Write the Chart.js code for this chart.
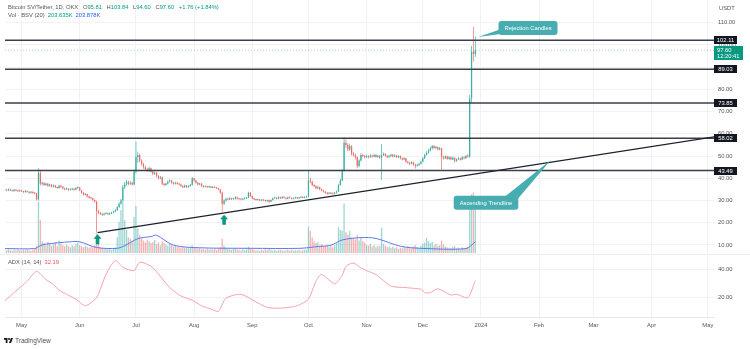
<!DOCTYPE html>
<html>
<head>
<meta charset="utf-8">
<script src="https://cdn.jsdelivr.net/npm/chart.js@4/dist/chart.umd.min.js"></script>
<style>
  body { margin: 0; background: #fff; font-family: "Liberation Sans", Arial, sans-serif; }
  #wrap { position: relative; width: 750px; height: 349px; overflow: hidden; background: #fff; }
  canvas { position: absolute; left: 0; }
  .txt { position: absolute; font-size: 5.8px; line-height: 7px; color: #555; white-space: nowrap; }
  .txt span { margin-right: 3px; }
  .up { color: #089981; }
  .blue { color: #2962ff; }
  .red { color: #f7525f; }
  #sep { position: absolute; left: 0; top: 254px; width: 750px; height: 1px; background: #eceef2; }
  #footer { position: absolute; left: 4px; top: 337px; font-size: 6.5px; color: #555; display: flex; align-items: center; gap: 2px; }
</style>
</head>
<body>
<div id="wrap">
  <canvas id="main" width="750" height="256" style="top:0"></canvas>
  <canvas id="adx" width="750" height="80" style="top:256px"></canvas>
  <div id="sep"></div>
  <div class="txt" style="left:8px;top:4px">
    <span>Bitcoin SV/Tether, 1D, OKX</span>
    <span>O<b class="up" style="font-weight:normal">95.81</b></span>
    <span>H<b class="up" style="font-weight:normal">103.84</b></span>
    <span>L<b class="up" style="font-weight:normal">94.60</b></span>
    <span>C<b class="up" style="font-weight:normal">97.60</b></span>
    <span class="up">+1.76 (+1.84%)</span>
  </div>
  <div class="txt" style="left:8px;top:12px">
    <span>Vol · BSV (20)</span><span class="up">203.635K</span><span class="blue">203.878K</span>
  </div>
  <div class="txt" style="left:8px;top:259px">
    <span>ADX (14, 14)</span><span class="red">32.19</span>
  </div>
  <div class="txt" style="left:719px;top:5px">USDT</div>
  <div id="footer">
    <svg width="9" height="7" viewBox="0 0 36 28"><path d="M14 24H7V11H0V4h14v20zm14 0h-8l7.5-20H36l-8 20z" fill="#131722"/><circle cx="20" cy="8" r="4" fill="#131722"/></svg>
    <span>TradingView</span>
  </div>
</div>
<script>
// day 0 = 1 May 2023, first candle is 22 Apr 2023
const startDay = -9

const opens = [
  34.5, 34.8, 34.5, 35.0, 34.6, 34.3, 34.9, 34.5, 34.2, 34.6,
  34.1, 33.8, 34.3, 33.9, 33.5, 33.9, 33.4, 33.2, 30.5, 42.5,
  37.5, 37.8, 37.0, 37.6, 36.6, 37.1, 36.3, 36.8, 36.0, 35.6,
  36.7, 36.2, 35.4, 35.0, 35.3, 34.8, 35.0, 35.3, 34.8, 35.6,
  35.9, 34.5, 33.5, 32.6, 32.9, 31.8, 31.2, 31.0, 30.2, 29.5,
  25.2, 24.4, 24.0, 23.6, 24.1, 24.3, 23.8, 24.2, 24.6, 25.0,
  25.6, 27.0, 28.5, 30.0, 36.0, 37.2, 38.4, 37.5, 38.0, 37.2,
  43.0, 49.6, 50.5, 48.0, 46.5, 45.0, 44.0, 43.5, 44.5, 43.0,
  42.0, 42.5, 41.0, 40.0, 40.5, 37.5, 37.0, 37.5, 38.5, 39.0,
  38.0, 37.5, 38.0, 37.6, 37.2, 36.5, 36.0, 36.8, 36.0, 36.5,
  37.0, 40.0, 39.0, 38.0, 37.2, 37.6, 36.5, 36.2, 36.4, 36.0,
  36.3, 35.8, 36.1, 35.9, 35.6, 35.0, 33.5, 28.5, 30.0, 30.8,
  30.5, 31.0, 30.6, 30.8, 31.5, 30.8, 30.6, 30.5, 30.8, 31.0,
  31.2, 33.5, 32.0, 31.0, 30.5, 30.2, 30.4, 30.0, 30.3, 30.1,
  29.8, 30.2, 29.5, 30.2, 31.0, 31.3, 30.8, 31.5, 31.0, 31.6,
  31.2, 30.8, 31.5, 31.2, 30.8, 31.0, 31.4, 31.0, 31.3, 31.6,
  31.2, 31.5, 31.8, 39.0, 38.5, 37.0, 36.5, 35.5, 36.0, 35.0,
  34.5, 34.0, 33.5, 33.0, 33.4, 33.2, 33.0, 33.5, 34.0, 37.0,
  39.0, 43.5, 56.0, 55.0, 53.0, 54.5, 51.0, 50.5, 49.5, 45.5,
  48.0, 50.5, 50.0, 49.5, 50.0, 49.5, 50.2, 49.8, 50.5, 49.6,
  50.2, 49.2, 50.5, 51.0, 50.2, 49.5, 50.0, 50.6, 49.8, 50.3,
  49.5, 50.0, 49.0, 48.5, 49.0, 47.5, 47.0, 46.5, 47.2, 46.2,
  45.6, 46.0, 46.5, 47.5, 49.0, 50.5, 51.5, 52.5, 53.5, 54.5,
  53.6, 54.0, 53.0, 53.5, 49.6, 49.0, 49.8, 48.7, 49.5, 48.5,
  49.2, 47.8, 48.5, 49.0, 48.4, 49.5, 49.0, 50.0, 49.8, 76.0,
  97.0, 95.81
]

const highs = [
  35.2, 35.1, 35.4, 35.3, 34.9, 35.3, 35.1, 34.8, 35.0, 34.8,
  34.4, 34.7, 34.5, 34.2, 34.3, 34.1, 33.8, 33.4, 44.5, 43.2,
  38.6, 38.2, 38.1, 37.9, 37.6, 37.4, 37.2, 37.0, 36.3, 37.2,
  37.0, 36.5, 35.8, 35.7, 35.5, 35.4, 35.7, 35.5, 36.0, 36.4,
  36.0, 34.8, 33.8, 33.4, 33.1, 32.1, 31.6, 31.3, 30.5, 29.9,
  25.8, 24.8, 24.3, 24.5, 24.7, 24.6, 24.6, 25.0, 25.4, 26.1,
  27.5, 29.2, 30.8, 37.0, 38.4, 39.2, 38.9, 38.7, 38.5, 44.0,
  56.5, 52.0, 51.0, 48.6, 47.0, 45.6, 44.6, 45.2, 44.9, 43.4,
  43.1, 42.8, 41.4, 41.0, 40.8, 37.9, 38.0, 39.0, 39.6, 39.3,
  38.4, 38.4, 38.3, 37.9, 37.5, 36.8, 37.2, 37.0, 36.9, 37.4,
  40.6, 40.3, 39.3, 38.3, 38.0, 37.8, 36.8, 36.8, 36.7, 36.6,
  36.5, 36.4, 36.3, 36.1, 35.8, 35.2, 34.0, 30.6, 31.3, 31.1,
  31.6, 31.2, 31.2, 31.9, 31.7, 31.1, 30.9, 31.2, 31.4, 31.6,
  34.0, 33.8, 32.3, 31.3, 30.8, 30.8, 30.6, 30.6, 30.5, 30.4,
  30.5, 30.4, 30.5, 31.4, 31.7, 31.5, 31.9, 31.7, 32.0, 31.8,
  31.4, 31.8, 31.7, 31.4, 31.3, 31.7, 31.6, 31.6, 31.9, 31.8,
  31.8, 32.2, 43.4, 40.2, 38.9, 37.5, 36.9, 36.6, 36.3, 35.3,
  34.8, 34.3, 33.8, 33.8, 33.7, 33.5, 33.9, 34.5, 37.6, 39.8,
  44.2, 58.5, 57.6, 55.8, 55.6, 54.9, 51.9, 51.0, 49.9, 48.6,
  51.3, 51.0, 50.6, 50.6, 50.4, 50.8, 50.6, 51.0, 50.8, 50.7,
  50.5, 55.4, 51.6, 51.3, 50.6, 50.5, 51.1, 50.9, 50.8, 50.6,
  50.4, 50.3, 49.4, 49.5, 49.3, 47.9, 47.4, 47.7, 47.5, 46.5,
  46.6, 47.0, 48.0, 49.6, 51.1, 52.2, 53.2, 54.2, 55.0, 54.9,
  54.6, 54.3, 54.1, 53.8, 50.2, 50.3, 50.1, 50.0, 49.8, 49.7,
  49.4, 49.0, 49.5, 49.3, 50.0, 49.8, 50.6, 50.8, 77.5, 99.5,
  108.2, 103.84
]

const lows = [
  34.2, 34.2, 34.3, 34.3, 33.9, 34.0, 34.2, 33.8, 33.9, 33.8,
  33.4, 33.5, 33.6, 33.1, 33.2, 33.0, 32.8, 30.0, 30.0, 36.8,
  36.9, 36.5, 36.6, 36.2, 36.2, 35.9, 35.9, 35.6, 35.2, 35.4,
  35.8, 35.0, 34.6, 34.7, 34.4, 34.5, 34.7, 34.4, 34.6, 35.3,
  34.2, 33.1, 32.2, 32.3, 31.4, 30.8, 30.6, 29.8, 29.1, 15.6,
  23.9, 23.5, 23.1, 23.2, 23.7, 23.4, 23.5, 23.9, 24.3, 24.7,
  25.3, 26.7, 28.1, 29.6, 35.2, 36.6, 36.9, 37.0, 36.8, 36.9,
  42.2, 47.0, 47.2, 45.8, 44.3, 43.2, 42.8, 43.0, 42.5, 41.4,
  41.6, 40.4, 39.5, 39.6, 37.0, 36.4, 36.6, 37.2, 38.1, 37.6,
  37.1, 37.2, 37.2, 36.8, 36.1, 35.6, 35.8, 35.6, 35.7, 36.2,
  36.8, 38.5, 37.6, 36.8, 36.9, 36.1, 35.8, 35.9, 35.7, 35.7,
  35.5, 35.5, 35.6, 35.2, 34.6, 33.0, 24.9, 27.9, 29.6, 30.1,
  30.2, 30.2, 30.3, 30.5, 30.5, 30.3, 30.1, 30.2, 30.5, 30.7,
  31.0, 31.7, 30.7, 30.2, 29.9, 29.9, 29.7, 29.7, 29.8, 29.5,
  29.5, 28.8, 29.3, 30.0, 30.8, 30.5, 30.6, 30.7, 30.8, 30.9,
  30.5, 30.6, 30.9, 30.5, 30.6, 30.8, 30.7, 30.8, 31.1, 30.9,
  31.0, 31.3, 31.5, 37.8, 36.4, 36.0, 35.1, 35.1, 34.6, 34.1,
  33.6, 33.1, 32.6, 32.7, 32.9, 32.6, 32.7, 33.2, 33.8, 36.6,
  38.7, 43.0, 53.8, 52.2, 52.4, 50.3, 49.8, 48.6, 44.5, 45.0,
  47.6, 49.4, 49.0, 49.1, 49.0, 49.2, 49.4, 49.5, 49.2, 49.3,
  48.8, 39.1, 50.0, 49.8, 49.1, 49.2, 49.7, 49.4, 49.5, 49.1,
  49.2, 48.6, 48.0, 48.2, 47.0, 46.5, 45.9, 46.2, 45.7, 44.4,
  45.2, 45.6, 46.2, 47.2, 48.7, 50.1, 51.1, 52.1, 53.0, 53.1,
  53.2, 52.5, 52.6, 44.0, 48.5, 48.7, 48.3, 48.4, 48.1, 48.2,
  47.0, 47.5, 48.2, 48.0, 48.2, 48.6, 48.8, 49.3, 49.2, 74.0,
  92.5, 94.60
]

const closes = [
  34.8, 34.5, 35.0, 34.6, 34.3, 34.9, 34.5, 34.2, 34.6, 34.1,
  33.8, 34.3, 33.9, 33.5, 33.9, 33.4, 33.2, 30.5, 42.5, 37.5,
  37.8, 37.0, 37.6, 36.6, 37.1, 36.3, 36.8, 36.0, 35.6, 36.7,
  36.2, 35.4, 35.0, 35.3, 34.8, 35.0, 35.3, 34.8, 35.6, 35.9,
  34.5, 33.5, 32.6, 32.9, 31.8, 31.2, 31.0, 30.2, 29.5, 25.2,
  24.4, 24.0, 23.6, 24.1, 24.3, 23.8, 24.2, 24.6, 25.0, 25.6,
  27.0, 28.5, 30.0, 36.0, 37.2, 38.4, 37.5, 38.0, 37.2, 43.0,
  49.6, 50.5, 48.0, 46.5, 45.0, 44.0, 43.5, 44.5, 43.0, 42.0,
  42.5, 41.0, 40.0, 40.5, 37.5, 37.0, 37.5, 38.5, 39.0, 38.0,
  37.5, 38.0, 37.6, 37.2, 36.5, 36.0, 36.8, 36.0, 36.5, 37.0,
  40.0, 39.0, 38.0, 37.2, 37.6, 36.5, 36.2, 36.4, 36.0, 36.3,
  35.8, 36.1, 35.9, 35.6, 35.0, 33.5, 28.5, 30.0, 30.8, 30.5,
  31.0, 30.6, 30.8, 31.5, 30.8, 30.6, 30.5, 30.8, 31.0, 31.2,
  33.5, 32.0, 31.0, 30.5, 30.2, 30.4, 30.0, 30.3, 30.1, 29.8,
  30.2, 29.5, 30.2, 31.0, 31.3, 30.8, 31.5, 31.0, 31.6, 31.2,
  30.8, 31.5, 31.2, 30.8, 31.0, 31.4, 31.0, 31.3, 31.6, 31.2,
  31.5, 31.8, 39.0, 38.5, 37.0, 36.5, 35.5, 36.0, 35.0, 34.5,
  34.0, 33.5, 33.0, 33.4, 33.2, 33.0, 33.5, 34.0, 37.0, 39.0,
  43.5, 56.0, 55.0, 53.0, 54.5, 51.0, 50.5, 49.5, 45.5, 48.0,
  50.5, 50.0, 49.5, 50.0, 49.5, 50.2, 49.8, 50.5, 49.6, 50.2,
  49.2, 50.5, 51.0, 50.2, 49.5, 50.0, 50.6, 49.8, 50.3, 49.5,
  50.0, 49.0, 48.5, 49.0, 47.5, 47.0, 46.5, 47.2, 46.2, 45.6,
  46.0, 46.5, 47.5, 49.0, 50.5, 51.5, 52.5, 53.5, 54.5, 53.6,
  54.0, 53.0, 53.5, 49.6, 49.0, 49.8, 48.7, 49.5, 48.5, 49.2,
  47.8, 48.5, 49.0, 48.4, 49.5, 49.0, 50.0, 49.8, 76.0, 97.0,
  95.84, 97.60
]

// volume in thousands
const volumes = [
  12, 10, 14, 11, 9, 13, 10, 12, 11, 9, 12, 10, 14, 11, 9, 12, 15,
  28, 196, 127,
  45, 38, 30, 42, 35, 28, 33, 40, 26, 48, 36, 30, 25, 32, 27, 22, 30, 26, 35, 40,
  30, 26, 22, 28, 24, 20, 25, 22, 30,
  75,
  35, 22, 18, 15, 17, 14, 16, 12, 18, 20,
  60, 120, 165, 197, 126, 88, 60, 55, 48, 139, 180, 95,
  70, 55, 48, 40, 52, 45, 38, 42, 50, 35, 40, 30, 45, 38, 33, 28, 36, 30, 25, 28,
  22, 26, 20, 24, 19, 22, 18, 20,
  30, 22,
  18, 16, 20, 14, 15, 12, 16, 13, 14, 12, 15, 11, 16, 22,
  55,
  28, 20, 16, 14, 12, 15, 18, 13, 12, 10, 14, 11, 13, 25, 18, 14, 12, 10, 11, 9,
  12, 10, 14, 11, 18, 12, 10, 13, 9, 11, 12, 10, 9, 11, 13, 10, 12, 9, 11, 10,
  12, 9, 11, 12, 14,
  101, 84,
  60, 45, 38, 42, 30, 35, 28, 26, 32, 24, 28, 22, 30, 38,
  100, 88, 85, 190,
  80, 70, 84, 60, 55, 52, 70, 48, 58, 45, 40,
  32, 28, 35, 25, 30, 22, 26, 28,
  97,
  35, 28, 22, 25, 20, 24, 18, 22, 16, 20, 18, 24, 20, 26, 22, 18, 25, 30, 22, 20,
  28, 35, 40, 58, 45, 38, 42, 30, 35, 28, 30, 48, 32, 26,
  22, 20, 18, 24, 26, 18, 20, 16, 22, 18, 20, 24,
  215, 225, 232, 203.635
]

// 20-day volume average
const volMaDays = [-9, 7, 10, 13, 26, 31, 40, 51, 55, 62, 69, 72, 81, 95, 122, 149, 157, 165, 171, 181, 189, 202, 213, 237, 242]
const volMaValues = [17, 17, 28, 34, 43, 43, 21, 18, 28, 55, 63, 68, 30, 20, 18, 18, 24, 30, 50, 59, 56, 26, 18, 17, 43]

const adxDays = [-9, -3, 3, 8, 13, 17, 20, 24, 29, 34, 40, 45, 50, 54, 60, 63, 69, 74, 79, 85,
  91, 96, 101, 105, 109, 117, 124, 131, 138, 145, 149, 153, 157, 160, 167, 171, 173, 177, 181, 184,
  189, 197, 205, 209, 213, 215, 218, 222, 229, 232, 238, 242]
const adxValues = [17.6, 24.7, 31.7, 38.8, 32.9, 29.4, 25.2, 22.3, 18.8, 14.1, 20.0, 36.5, 46.6, 41.7, 39.3, 45.4, 42.4, 35.3, 27.1, 21.1,
  18.1, 14.1, 11.7, 10.1, 19.5, 22.3, 17.6, 12.9, 12.4, 13.4, 15.3, 18.8, 31.7, 36.5, 29.9, 36.0, 42.4, 44.7, 41.2, 39.3,
  36.5, 28.2, 27.1, 26.6, 25.9, 23.5, 23.5, 26.3, 21.8, 22.3, 20.0, 32.19]

const levels = [102.11, 89.03, 73.85, 58.02, 43.49]
const lastPrice = 97.60
const priceTicks = [10, 20, 30, 40, 50, 60, 70, 80, 90, 100, 110]
const adxTicks = [20, 40]
const monthDays = [0, 31, 61, 92, 123, 153, 184, 214, 245, 276, 305, 336, 366]
const monthLabels = ['May', 'Jun', 'Jul', 'Aug', 'Sep', 'Oct', 'Nov', 'Dec', '2024', 'Feb', 'Mar', 'Apr', 'May']

// trendline from the June low, [day, price]
const trendline = [[40.5, 15.6], [371.4, 58.9]]
const arrows = [[40.5, 12.6], [108, 21.4]]
const calloutTexts = ['Rejection Candles', 'Ascending Trendline']
const calloutBoxes = [[270.1, 107.6], [247.7, 29.0]]
const calloutTips = [[243.4, 103.6], [282.3, 48.2]]

const xMin = -8.85, xMax = 369.3
const font = '"Liberation Sans", Arial, sans-serif'
const upColor = '#3bb0a3', downColor = '#f06a68'
const gridColor = '#f1f2f5'
const teal = '#089981'
const calloutColor = '#48adb0'

const days = closes.map((_, i) => startDay + i)
const isUp = i => closes[i] >= opens[i]
const candleColor = ctx => isUp(ctx.dataIndex) ? upColor : downColor

const drawings = {
  id: 'drawings',
  afterDatasetsDraw(chart) {
    const { ctx, scales: { x, y } } = chart
    ctx.save()
    // arrows under the trendline touches
    ctx.fillStyle = teal
    arrows.forEach(([d, p]) => {
      const cx = x.getPixelForValue(d), cy = y.getPixelForValue(p)
      ctx.beginPath()
      ctx.moveTo(cx, cy - 5)
      ctx.lineTo(cx + 4, cy - 0.5)
      ctx.lineTo(cx + 1.8, cy - 0.5)
      ctx.lineTo(cx + 1.8, cy + 5)
      ctx.lineTo(cx - 1.8, cy + 5)
      ctx.lineTo(cx - 1.8, cy - 0.5)
      ctx.lineTo(cx - 4, cy - 0.5)
      ctx.closePath()
      ctx.fill()
    })

    // callouts with a wedge toward the point
    ctx.font = '5.8px ' + font
    const wedges = [[-0.35, 0.15, 3], [0.32, 0, 6]]
    calloutTexts.forEach((text, i) => {
      const bx = x.getPixelForValue(calloutBoxes[i][0]), by = y.getPixelForValue(calloutBoxes[i][1])
      const tx = x.getPixelForValue(calloutTips[i][0]), ty = y.getPixelForValue(calloutTips[i][1])
      const w = ctx.measureText(text).width + 12, h = 14
      const [fx, fy, half] = wedges[i]
      const sx = bx + fx * w, sy = by + fy * h
      const len = Math.hypot(tx - sx, ty - sy)
      const nx = -(ty - sy) / len * half, ny = (tx - sx) / len * half
      ctx.fillStyle = calloutColor
      ctx.beginPath()
      ctx.moveTo(sx + nx, sy + ny)
      ctx.lineTo(tx, ty)
      ctx.lineTo(sx - nx, sy - ny)
      ctx.closePath()
      ctx.fill()
      ctx.beginPath()
      ctx.roundRect(bx - w / 2, by - h / 2, w, h, 3)
      ctx.fill()
      ctx.fillStyle = '#fff'
      ctx.textAlign = 'center'
      ctx.textBaseline = 'middle'
      ctx.fillText(text, bx, by + 0.5)
    })
    ctx.restore()
  },
  afterDraw(chart) {
    const { ctx, scales: { y }, chartArea } = chart
    ctx.save()
    ctx.font = '5.8px ' + font
    ctx.textBaseline = 'middle'
    // level tags on the price axis
    levels.forEach(v => {
      const py = Math.round(y.getPixelForValue(v))
      ctx.fillStyle = '#131722'
      ctx.fillRect(chartArea.right, py - 4, 23, 8)
      ctx.fillStyle = '#fff'
      ctx.textAlign = 'center'
      ctx.fillText(v.toFixed(2), chartArea.right + 11.5, py + 0.5)
    })
    // last price tag with countdown
    const py = Math.round(y.getPixelForValue(lastPrice))
    ctx.fillStyle = teal
    ctx.fillRect(chartArea.right, py - 4, 29, 14)
    ctx.fillStyle = '#fff'
    ctx.textAlign = 'left'
    ctx.fillText(lastPrice.toFixed(2), chartArea.right + 3, py)
    ctx.fillText('12:20:41', chartArea.right + 3, py + 6.5)
    ctx.restore()
  }
}

const hLine = v => [{ x: xMin, y: v }, { x: xMax, y: v }]
const monthTicks = s => { s.ticks = monthDays.map(v => ({ value: v })) }

new Chart(document.getElementById('main'), {
  type: 'bar',
  data: {
    datasets: [
      { type: 'line', data: trendline.map(([x, y]) => ({ x, y })), borderColor: '#1e222d', borderWidth: 1.2, pointRadius: 0, order: 1 },
      ...levels.map(v => ({ type: 'line', data: hLine(v), borderColor: '#3b3f4a', borderWidth: 1.5, pointRadius: 0, order: 2 })),
      { type: 'line', data: hLine(lastPrice), borderColor: 'rgba(8,153,129,0.35)', borderWidth: 1, borderDash: [1, 2], pointRadius: 0, order: 2 },
      { data: days.map((d, i) => ({ x: d, y: [opens[i], closes[i]] })), backgroundColor: candleColor, maxBarThickness: 1.25, minBarLength: 1, grouped: false, order: 3 },
      { data: days.map((d, i) => ({ x: d, y: [lows[i], highs[i]] })), backgroundColor: candleColor, maxBarThickness: 0.7, grouped: false, order: 4 },
      { type: 'line', yAxisID: 'yVol', data: volMaDays.map((d, i) => ({ x: d, y: volMaValues[i] })), borderColor: '#5b7be8', borderWidth: 1, pointRadius: 0, tension: 0.3, order: 5 },
      { yAxisID: 'yVol', data: days.map((d, i) => ({ x: d, y: volumes[i] })), backgroundColor: ctx => isUp(ctx.dataIndex) ? 'rgba(38,166,154,0.45)' : 'rgba(239,83,80,0.45)', maxBarThickness: 1.3, grouped: false, order: 6 }
    ]
  },
  options: {
    responsive: false,
    animation: false,
    events: [],
    layout: { padding: { left: 5, right: 0, top: 0, bottom: 3 } },
    plugins: { legend: { display: false }, tooltip: { enabled: false } },
    scales: {
      x: {
        type: 'linear', min: xMin, max: xMax, offset: false,
        grid: { color: gridColor, drawTicks: false, offset: false },
        border: { display: false },
        ticks: { display: false },
        afterBuildTicks: monthTicks,
        afterFit: s => { s.height = 0; s.paddingLeft = 0; s.paddingRight = 0 }
      },
      y: {
        position: 'right', min: 6.4, max: 120.21,
        grid: { color: gridColor, drawTicks: false },
        border: { display: false },
        ticks: { padding: 4, color: '#555', font: { family: font, size: 5.8 }, callback: v => v.toFixed(2) },
        afterBuildTicks: s => { s.ticks = priceTicks.map(v => ({ value: v })) },
        afterFit: s => { s.width = 36; s.paddingTop = 0; s.paddingBottom = 0 }
      },
      yVol: { axis: 'y', position: 'left', display: false, min: 0, max: 970 }
    }
  },
  plugins: [drawings]
})

new Chart(document.getElementById('adx'), {
  type: 'line',
  data: {
    datasets: [{ data: adxDays.map((d, i) => ({ x: d, y: adxValues[i] })), borderColor: '#f5a3a9', borderWidth: 1, pointRadius: 0, tension: 0.25 }]
  },
  options: {
    responsive: false,
    animation: false,
    events: [],
    layout: { padding: { left: 5, right: 0, top: 1, bottom: 0 } },
    plugins: { legend: { display: false }, tooltip: { enabled: false } },
    scales: {
      x: {
        type: 'linear', min: xMin, max: xMax,
        grid: { color: gridColor, drawTicks: false },
        border: { display: true, color: '#e6e8ee' },
        ticks: { padding: 5, color: '#555', maxRotation: 0, autoSkip: false, font: { family: font, size: 5.8 },
          callback: v => monthLabels[monthDays.indexOf(v)] },
        afterBuildTicks: monthTicks,
        afterFit: s => { s.height = 19; s.paddingLeft = 0; s.paddingRight = 0 }
      },
      y: {
        position: 'right', min: 6.0, max: 49.1,
        grid: { color: gridColor, drawTicks: false },
        border: { display: false },
        ticks: { padding: 4, color: '#555', font: { family: font, size: 5.8 }, callback: v => v.toFixed(2) },
        afterBuildTicks: s => { s.ticks = adxTicks.map(v => ({ value: v })) },
        afterFit: s => { s.width = 36; s.paddingTop = 0; s.paddingBottom = 0 }
      }
    }
  }
})
</script>
</body>
</html>
